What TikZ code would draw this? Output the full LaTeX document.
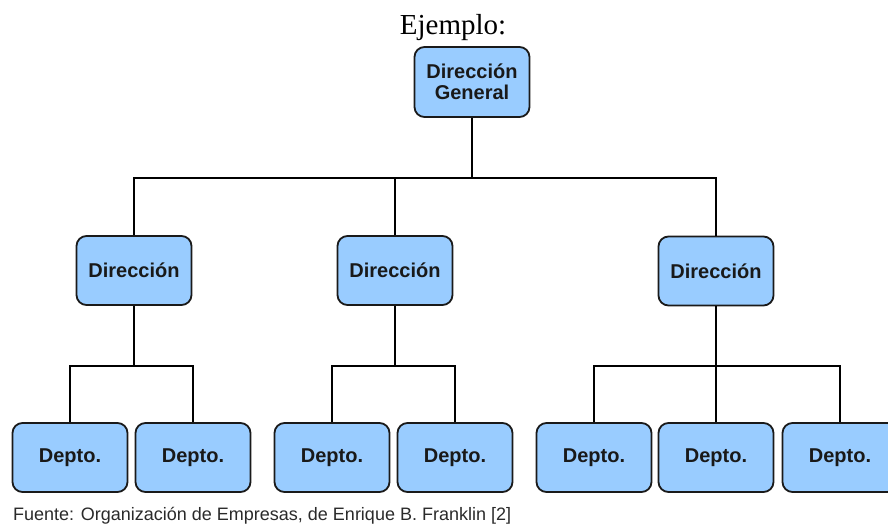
\documentclass[tikz,border=0pt]{standalone}
\usepackage{fontspec}
\setmainfont{Liberation Serif}
\setsansfont{Liberation Sans}
\definecolor{boxfill}{HTML}{99CCFF}
\definecolor{boxline}{HTML}{1A1A1A}
\definecolor{captext}{HTML}{2A2A2A}
\begin{document}
\begin{tikzpicture}[x=1pt,y=-1pt,
  unit/.style={draw=boxline,fill=boxfill,line width=1.8pt,rounded corners=10pt,
    minimum width=115pt,minimum height=69pt,inner sep=0pt,align=center,
    font=\sffamily\bfseries\fontsize{20}{21}\selectfont,text=black!90},
  link/.style={draw=black,line width=1.6pt}]
\useasboundingbox (0,0) rectangle (888,524);

% heading
\node[font=\rmfamily\fontsize{29}{30}\selectfont,anchor=base] (title) at (453,35) {Ejemplo:};

% top level
\node[unit,minimum height=70pt] (gen) at (472,82) {Dirección\\General};

% second level
\node[unit] (d1) at (134,270.5) {Dirección};
\node[unit] (d2) at (395,270.5) {Dirección};
\node[unit] (d3) at (716,271) {Dirección};

% departments
\node[unit] (e11) at (70,457.5) {Depto.};
\node[unit] (e12) at (193,457.5) {Depto.};
\node[unit] (e21) at (332,457.5) {Depto.};
\node[unit] (e22) at (455,457.5) {Depto.};
\node[unit] (e31) at (594,457.5) {Depto.};
\node[unit] (e32) at (716,457.5) {Depto.};
\node[unit] (e33) at (840,457.5) {Depto.};

% bus lines
\coordinate (bus0) at (472,178);
\coordinate (bus1) at (134,366);
\coordinate (bus2) at (395,366);
\coordinate (bus3) at (716,366);

\draw[link] (gen.south) -- (bus0);
\draw[link] (d1.north) |- (bus0) -| (d3.north);
\draw[link] (d2.north) -- (d2.north |- bus0);

\draw[link] (d1.south) -- (bus1);
\draw[link] (e11.north) |- (bus1) -| (e12.north);

\draw[link] (d2.south) -- (bus2);
\draw[link] (e21.north) |- (bus2) -| (e22.north);

\draw[link] (d3.south) -- (bus3);
\draw[link] (e31.north) |- (bus3) -| (e33.north);
\draw[link] (e32.north) -- (e32.north |- bus3);

% source line
\node[anchor=base west,inner sep=0pt,text=captext,font=\sffamily\fontsize{18}{19}\selectfont] (src) at (13,520)
  {Fuente: Organización de Empresas, de Enrique B. Franklin [2]};
\end{tikzpicture}
\end{document}
